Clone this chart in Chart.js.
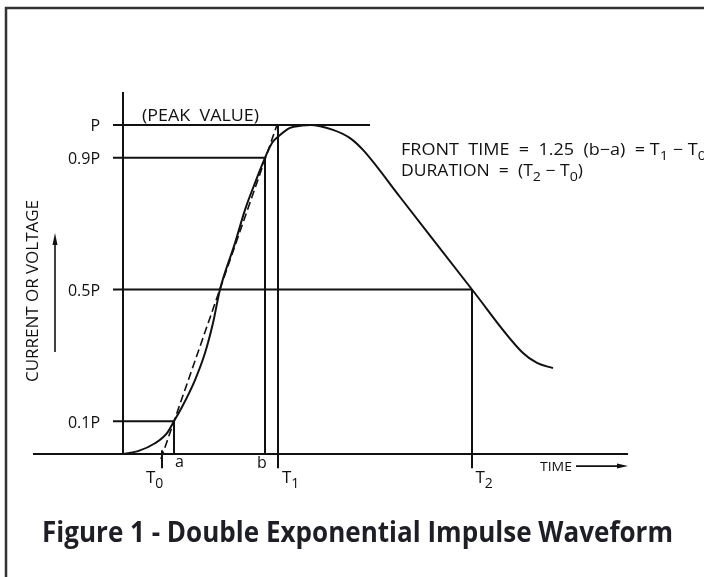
<!DOCTYPE html>
<html>
<head>
<meta charset="utf-8">
<script src="https://cdn.jsdelivr.net/npm/chart.js@4.4.1/dist/chart.umd.min.js"></script>
<style>
  html, body { margin: 0; padding: 0; background: #fff; }
  #wrap { width: 704px; height: 577px; position: relative; }
</style>
</head>
<body>
<div id="wrap"><canvas id="myChart"></canvas></div>
<script>
// impulse waveform: time (arbitrary units), value as fraction of peak P
const curveTime  = [0, 1.5, 3.2, 4.4, 5.1, 5.9, 7.2, 8.2, 9.0, 9.7, 11.2, 12.2, 13.2, 14.2, 14.9, 15.5,
                    16.7, 17.9, 18.7, 21.0, 22.7, 24.0, 27.7, 34.9, 40.0, 41.4, 43.0];
const curveValue = [0, 0.009, 0.033, 0.064, 0.1, 0.143, 0.225, 0.307, 0.398, 0.5, 0.641, 0.742, 0.824, 0.9, 0.945, 0.964,
                    0.991, 0.998, 1.0, 0.985, 0.96, 0.924, 0.781, 0.5, 0.307, 0.277, 0.261];

// reference levels and where their lines stop
const levelLabels = ['P', '0.9P', '0.5P', '0.1P'];
const levelValues = [1, 0.9, 0.5, 0.1];
const levelEnds   = [24.7, 14.2, 34.9, 5.1];

// vertical markers on the time axis
const markerNames   = ['a', 'b', 'T1', 'T2'];
const markerTimes   = [5.1, 14.2, 15.5, 34.9];
const markerTops    = [0.1, 0.9, 1, 0.5];
const markerBottoms = [0, 0, -0.043, -0.043];
const t0Time = 3.9;

// dashed front line through the 10% and 90% points
const frontTime  = [3.79, 15.4];
const frontValue = [-0.015, 1];

const axisTime = [-9, 50.5];
const axisTop = 1.1;

const FONT = '"Open Sans", "DejaVu Sans", sans-serif';
const ink = '#111';

const pts = (xs, ys) => xs.map((x, i) => ({ x: x, y: ys[i] }));
const line = (data, extra) => Object.assign({
  data: data, showLine: true, pointRadius: 0, borderColor: ink, borderWidth: 2,
  fill: false, clip: false, tension: 0
}, extra || {});

const datasets = [];
datasets.push(line(pts(curveTime, curveValue), { cubicInterpolationMode: 'monotone' }));
datasets.push(line(pts(frontTime, frontValue), { borderWidth: 1.6, borderDash: [8, 4] }));
levelValues.forEach((v, i) => datasets.push(line([{ x: -1, y: v }, { x: levelEnds[i], y: v }])));
markerTimes.forEach((t, i) => datasets.push(line([{ x: t, y: markerTops[i] }, { x: t, y: markerBottoms[i] }])));
datasets.push(line([{ x: t0Time, y: 0.012 }, { x: t0Time, y: -0.043 }]));
datasets.push(line([{ x: 0, y: 0 }, { x: 0, y: axisTop }]));
datasets.push(line([{ x: axisTime[0], y: 0 }, { x: axisTime[1], y: 0 }]));

// text with subscripts: parts starting with '_' are subscripts
function rich(ctx, parts, x0, y0, size, width, weight) {
  ctx.save();
  const w = weight || '400';
  const big = w + ' ' + size + 'px ' + FONT;
  const small = w + ' ' + Math.round(size * 0.8) + 'px ' + FONT;
  let natural = 0;
  parts.forEach(p => {
    ctx.font = p[0] === '_' ? small : big;
    natural += ctx.measureText(p.replace(/^_/, '')).width;
  });
  ctx.translate(x0, y0);
  if (width) ctx.scale(width / natural, 1);
  ctx.textAlign = 'left';
  ctx.textBaseline = 'alphabetic';
  let cx = 0;
  parts.forEach(p => {
    const sub = p[0] === '_';
    const t = sub ? p.slice(1) : p;
    ctx.font = sub ? small : big;
    ctx.fillText(t, cx, sub ? size * 0.3 : 0);
    cx += ctx.measureText(t).width;
  });
  ctx.restore();
}

const notes = {
  id: 'notes',
  afterDatasetsDraw(chart) {
    const { ctx } = chart;
    const x = chart.scales.x, y = chart.scales.y;
    ctx.save();
    ctx.fillStyle = ink;
    ctx.strokeStyle = ink;

    // frame
    ctx.lineWidth = 2.5;
    ctx.strokeStyle = '#333';
    ctx.beginPath();
    ctx.moveTo(704, 8); ctx.lineTo(6, 8); ctx.lineTo(6, 577);
    ctx.stroke();
    ctx.strokeStyle = ink;

    // level labels
    ctx.font = '400 16px ' + FONT;
    ctx.textAlign = 'right';
    levelLabels.forEach((lab, i) => {
      ctx.fillText(lab, x.getPixelForValue(-1) - 13, y.getPixelForValue(levelValues[i]) + 6.5);
    });

    rich(ctx, ['(PEAK  VALUE)'], 142, 120.5, 16, 117);

    // labels under the time axis
    const base = y.getPixelForValue(0);
    rich(ctx, ['a'], x.getPixelForValue(markerTimes[0]) + 1, base + 13, 16);
    rich(ctx, ['b'], x.getPixelForValue(markerTimes[1]) - 8, base + 14, 16);
    rich(ctx, ['T', '_1'], x.getPixelForValue(markerTimes[2]) + 4, base + 29, 17);
    rich(ctx, ['T', '_2'], x.getPixelForValue(markerTimes[3]) + 3.5, base + 29, 17);
    rich(ctx, ['T', '_0'], x.getPixelForValue(t0Time) - 16, base + 29, 17);

    // TIME arrow
    rich(ctx, ['TIME'], 540, base + 17, 13.5, 32);
    const ay = base + 12;
    const ax = x.getPixelForValue(axisTime[1]);
    ctx.lineWidth = 1.8;
    ctx.beginPath(); ctx.moveTo(576, ay); ctx.lineTo(ax - 6, ay); ctx.stroke();
    ctx.beginPath(); ctx.moveTo(ax, ay); ctx.lineTo(ax - 11, ay - 2.5); ctx.lineTo(ax - 11, ay + 2.5); ctx.closePath(); ctx.fill();

    // vertical axis title with arrow
    ctx.save();
    ctx.translate(38, 291);
    ctx.rotate(-Math.PI / 2);
    ctx.font = '400 16px ' + FONT;
    const nat = ctx.measureText('CURRENT OR VOLTAGE').width;
    ctx.scale(182 / nat, 1);
    ctx.textAlign = 'center';
    ctx.fillText('CURRENT OR VOLTAGE', 0, 0);
    ctx.restore();
    ctx.lineWidth = 1.6;
    ctx.beginPath(); ctx.moveTo(55, 352); ctx.lineTo(55, 242); ctx.stroke();
    ctx.beginPath(); ctx.moveTo(55, 233); ctx.lineTo(52.5, 245); ctx.lineTo(57.5, 245); ctx.closePath(); ctx.fill();

    // formulas on the right
    rich(ctx, ['FRONT  TIME  =  1.25  (b\u2212a)  = T', '_1', ' \u2212 T', '_0'], 401, 155, 16, 305);
    rich(ctx, ['DURATION  =  (T', '_2', ' \u2212 T', '_0', ')'], 401, 176, 16, 182);

    // caption
    ctx.fillStyle = '#1e1e26';
    rich(ctx, ['Figure 1 - Double Exponential Impulse Waveform'], 42, 542, 28, 631, 'bold');
    ctx.restore();
  }
};

new Chart(document.getElementById('myChart'), {
  type: 'scatter',
  data: { datasets: datasets },
  options: {
    responsive: true,
    maintainAspectRatio: false,
    animation: false,
    layout: { padding: { left: 33, right: 71, top: 92, bottom: 90 } },
    scales: {
      x: { type: 'linear', min: -9, max: 51, display: false },
      y: { type: 'linear', min: -0.1, max: 1.1, display: false }
    },
    plugins: { legend: { display: false }, tooltip: { enabled: false } }
  },
  plugins: [notes]
});
</script>
</body>
</html>
